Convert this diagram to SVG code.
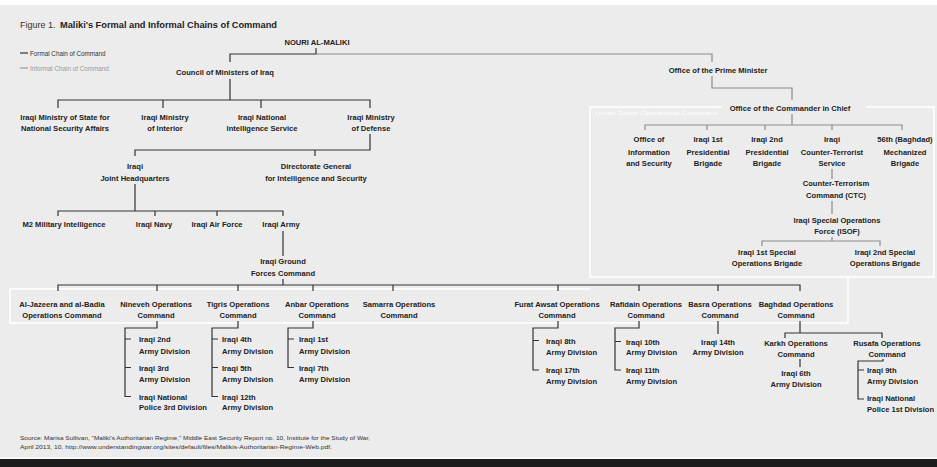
<svg xmlns="http://www.w3.org/2000/svg" width="937" height="467" viewBox="0 0 937 467">
<style>
text{font-family:"Liberation Sans",Arial,sans-serif}
.n{font-size:7.6px;font-weight:bold;fill:#222;text-anchor:middle}
.l{font-size:7.6px;font-weight:bold;fill:#222}
.f{fill:none;stroke:#333;stroke-width:1.2}
.i{fill:none;stroke:#8c8c8c;stroke-width:1.2}
.w{fill:none;stroke:#fff;stroke-width:1.5}
</style>
<rect x="0" y="0" width="937" height="467" fill="#ececec"/>
<rect x="0" y="0" width="937" height="5" fill="#fff"/>
<rect x="0" y="457" width="937" height="2" fill="#fafafa"/>
<rect x="0" y="459" width="937" height="8" fill="#1c1c1c"/>

<g id="frame">
<path class="w" d="M722,107 H590 V277 H934 V107 H866"/>
<path class="w" d="M848,277 V323 H10 V289 H590"/>
<text x="595" y="115" font-size="6" fill="#fff" textLength="122" lengthAdjust="spacingAndGlyphs">Under Direct Operational Command</text>
</g>

<g id="title">
<text x="20" y="28" font-size="9" fill="#333">Figure 1.</text>
<text x="60" y="28" font-size="9" font-weight="bold" fill="#222" textLength="217" lengthAdjust="spacingAndGlyphs">Maliki's Formal and Informal Chains of Command</text>
</g>
<g id="legend">
<line x1="20" y1="53" x2="28" y2="53" stroke="#333" stroke-width="1.2"/>
<text x="30" y="55.5" font-size="6.3" fill="#333">Formal Chain of Command</text>
<line x1="20" y1="68" x2="28" y2="68" stroke="#999" stroke-width="1.2"/>
<text x="30" y="70.5" font-size="6.3" fill="#999">Informal Chain of Command</text>
</g>

<g id="connectors">
<path class="f" d="M316,48 V54 H230 V62"/>
<path class="f" d="M230,79 V100 M58,108 V100 H370 V108 M163,100 V108 M261,100 V108"/>
<path class="f" d="M370,134 V150 H135 V156 M315,150 V156"/>
<path class="f" d="M135,184 V211 M58,216 V211 H283 V216 M155,211 V216 M217,211 V216"/>
<path class="f" d="M283,231 V256"/>
<path class="f" d="M283,279 V285 M58,291 V285 H800 V291 M157,285 V291 M238,285 V291 M313,285 V291 M393,285 V291 M558,285 V291 M639,285 V291 M718,285 V291"/>
<path class="f" d="M157,321 V328 H125 V396.5 H131 M125,339 H131 M125,367.5 H131"/>
<path class="f" d="M238,321 V328 H212 V396.5 H218 M212,339 H218 M212,367.5 H218"/>
<path class="f" d="M313,321 V328 H288 V367.5 H294 M288,339 H294"/>
<path class="f" d="M558,321 V328 H533 V370 H539 M533,340.5 H539"/>
<path class="f" d="M639,321 V328 H615 V370 H621 M615,341.5 H621"/>
<path class="f" d="M718,321 V334"/>
<path class="f" d="M800,321 V333 M785,338 V333 H882 V338 M800,359 V367"/>
<path class="f" d="M883,359 V361 H858 V399 H864 M858,370 H864"/>
<path class="i" d="M316,54 H712 V62"/>
<path class="i" d="M712,76 V88 H792 V100"/>
<path class="i" d="M792,114 V125 M645,130 V125 H902 V130 M707,125 V130 M765,125 V130 M832,125 V130"/>
<path class="i" d="M832,169 V179 M832,201 V214 M832,237 V241 M762,246 V241 H880 V246"/>
</g>

<g id="maliki"><text class="n" x="317" y="45">NOURI AL-MALIKI</text></g>
<g id="council"><text class="n" x="225" y="75">Council of Ministers of Iraq</text></g>
<g id="state-nsa"><text class="n" x="65" y="120">Iraqi Ministry of State for</text><text class="n" x="65" y="131">National Security Affairs</text></g>
<g id="interior"><text class="n" x="165" y="120">Iraqi Ministry</text><text class="n" x="165" y="131">of Interior</text></g>
<g id="ins"><text class="n" x="262" y="120">Iraqi National</text><text class="n" x="262" y="131">Intelligence Service</text></g>
<g id="defense"><text class="n" x="371" y="120">Iraqi Ministry</text><text class="n" x="371" y="131">of Defense</text></g>
<g id="jhq"><text class="n" x="135" y="169">Iraqi</text><text class="n" x="135" y="180.5">Joint Headquarters</text></g>
<g id="dgis"><text class="n" x="316" y="169">Directorate General</text><text class="n" x="316" y="180.5">for Intelligence and Security</text></g>
<g id="m2"><text class="n" x="64" y="227">M2 Military Intelligence</text></g>
<g id="navy"><text class="n" x="154" y="227">Iraqi Navy</text></g>
<g id="airforce"><text class="n" x="217" y="227">Iraqi Air Force</text></g>
<g id="army"><text class="n" x="281" y="227">Iraqi Army</text></g>
<g id="gfc"><text class="n" x="283" y="264">Iraqi Ground</text><text class="n" x="283" y="275.5">Forces Command</text></g>

<g id="aljazeera"><text class="n" x="62" y="307">Al-Jazeera and al-Badia</text><text class="n" x="62" y="318">Operations Command</text></g>
<g id="nineveh"><text class="n" x="156" y="307">Nineveh Operations</text><text class="n" x="156" y="318">Command</text></g>
<g id="tigris"><text class="n" x="238" y="307">Tigris Operations</text><text class="n" x="238" y="318">Command</text></g>
<g id="anbar"><text class="n" x="317" y="307">Anbar Operations</text><text class="n" x="317" y="318">Command</text></g>
<g id="samarra"><text class="n" x="399" y="307">Samarra Operations</text><text class="n" x="399" y="318">Command</text></g>
<g id="furat"><text class="n" x="557" y="307">Furat Awsat Operations</text><text class="n" x="557" y="318">Command</text></g>
<g id="rafidain"><text class="n" x="646" y="307">Rafidain Operations</text><text class="n" x="646" y="318">Command</text></g>
<g id="basra"><text class="n" x="720" y="307">Basra Operations</text><text class="n" x="720" y="318">Command</text></g>
<g id="baghdad"><text class="n" x="796" y="307">Baghdad Operations</text><text class="n" x="796" y="318">Command</text></g>

<g id="div2"><text class="l" x="139" y="342">Iraqi 2nd</text><text class="l" x="139" y="353.5">Army Division</text></g>
<g id="div3"><text class="l" x="139" y="370.5">Iraqi 3rd</text><text class="l" x="139" y="382">Army Division</text></g>
<g id="np3"><text class="l" x="139" y="399.5">Iraqi National</text><text class="l" x="139" y="410">Police 3rd Division</text></g>
<g id="div4"><text class="l" x="222" y="342">Iraqi 4th</text><text class="l" x="222" y="353.5">Army Division</text></g>
<g id="div5"><text class="l" x="222" y="370.5">Iraqi 5th</text><text class="l" x="222" y="382">Army Division</text></g>
<g id="div12"><text class="l" x="222" y="399.5">Iraqi 12th</text><text class="l" x="222" y="410">Army Division</text></g>
<g id="div1"><text class="l" x="299" y="342">Iraqi 1st</text><text class="l" x="299" y="353.5">Army Division</text></g>
<g id="div7"><text class="l" x="299" y="370.5">Iraqi 7th</text><text class="l" x="299" y="382">Army Division</text></g>
<g id="div8"><text class="l" x="546" y="343.5">Iraqi 8th</text><text class="l" x="546" y="354.5">Army Division</text></g>
<g id="div17"><text class="l" x="546" y="373">Iraqi 17th</text><text class="l" x="546" y="384">Army Division</text></g>
<g id="div10"><text class="l" x="626" y="344.5">Iraqi 10th</text><text class="l" x="626" y="355">Army Division</text></g>
<g id="div11"><text class="l" x="626" y="373">Iraqi 11th</text><text class="l" x="626" y="384">Army Division</text></g>
<g id="div14"><text class="n" x="718" y="344.5">Iraqi 14th</text><text class="n" x="718" y="355">Army Division</text></g>
<g id="karkh"><text class="n" x="796" y="345.5">Karkh Operations</text><text class="n" x="796" y="356.5">Command</text></g>
<g id="div6"><text class="n" x="796" y="375.5">Iraqi 6th</text><text class="n" x="796" y="387">Army Division</text></g>
<g id="rusafa"><text class="n" x="887" y="345.5">Rusafa Operations</text><text class="n" x="887" y="356.5">Command</text></g>
<g id="div9"><text class="l" x="867" y="373">Iraqi 9th</text><text class="l" x="867" y="384">Army Division</text></g>
<g id="np1"><text class="l" x="867" y="400.5">Iraqi National</text><text class="l" x="867" y="412">Police 1st Division</text></g>

<g id="opm"><text class="n" x="718" y="72.5">Office of the Prime Minister</text></g>
<g id="cinc"><text class="n" x="790" y="111">Office of the Commander in Chief</text></g>
<g id="ois"><text class="n" x="649" y="142">Office of</text><text class="n" x="649" y="154.5">Information</text><text class="n" x="649" y="166">and Security</text></g>
<g id="pb1"><text class="n" x="708" y="142">Iraqi 1st</text><text class="n" x="708" y="154.5">Presidential</text><text class="n" x="708" y="166">Brigade</text></g>
<g id="pb2"><text class="n" x="767" y="142">Iraqi 2nd</text><text class="n" x="767" y="154.5">Presidential</text><text class="n" x="767" y="166">Brigade</text></g>
<g id="cts"><text class="n" x="832" y="142">Iraqi</text><text class="n" x="832" y="154.5">Counter-Terrorist</text><text class="n" x="832" y="166">Service</text></g>
<g id="mech56"><text class="n" x="905" y="142">56th (Baghdad)</text><text class="n" x="905" y="154.5">Mechanized</text><text class="n" x="905" y="166">Brigade</text></g>
<g id="ctc"><text class="n" x="836" y="186">Counter-Terrorism</text><text class="n" x="836" y="198">Command (CTC)</text></g>
<g id="isof"><text class="n" x="837" y="223">Iraqi Special Operations</text><text class="n" x="837" y="233.5">Force (ISOF)</text></g>
<g id="sob1"><text class="n" x="767" y="254.5">Iraqi 1st Special</text><text class="n" x="767" y="266">Operations Brigade</text></g>
<g id="sob2"><text class="n" x="885" y="254.5">Iraqi 2nd Special</text><text class="n" x="885" y="266">Operations Brigade</text></g>

<g id="source">
<text x="20" y="440" font-size="5.4" fill="#333" textLength="350" lengthAdjust="spacingAndGlyphs">Source: Marisa Sullivan, "Maliki's Authoritarian Regime," Middle East Security Report no. 10, Institute for the Study of War,</text>
<text x="20" y="449" font-size="5.4" fill="#333" textLength="312" lengthAdjust="spacingAndGlyphs">April 2013, 10, http://www.understandingwar.org/sites/default/files/Malikis-Authoritarian-Regime-Web.pdf.</text>
</g>
</svg>
